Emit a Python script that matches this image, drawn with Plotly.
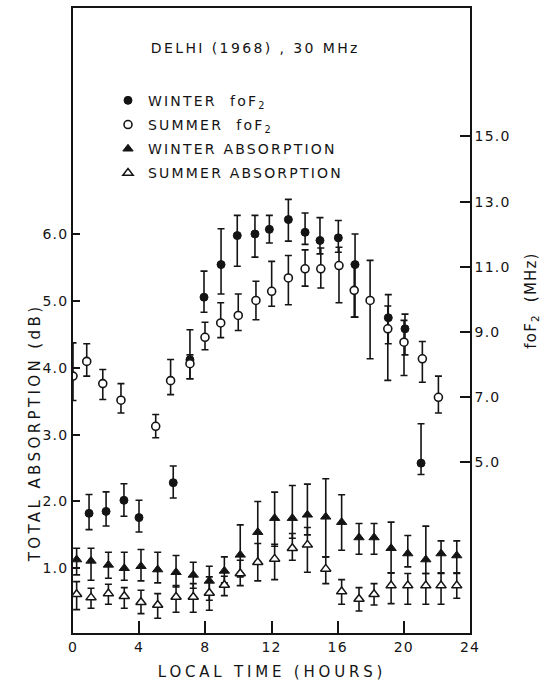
import plotly.graph_objects as go

# ---- Absorption (dB), left axis ----
abs_hours = [0.22, 1.09, 2.14, 3.10, 4.11, 5.12, 6.23, 7.27, 8.24, 9.15, 10.11, 11.17,
             12.19, 13.26, 14.17, 15.28, 16.24, 17.29, 18.20, 19.23, 20.24, 21.33, 22.25, 23.20]

winter_abs = [1.13, 1.11, 1.05, 1.00, 1.03, 0.98, 0.94, 0.90, 0.81, 0.96, 1.20, 1.54,
              1.75, 1.75, 1.80, 1.77, 1.69, 1.46, 1.46, 1.30, 1.22, 1.13, 1.22, 1.19]
winter_abs_hi = [1.30, 1.30, 1.24, 1.24, 1.28, 1.24, 1.19, 1.09, 1.03, 1.17, 1.65, 2.00,
                 2.14, 2.24, 2.26, 2.34, 2.10, 1.67, 1.67, 1.69, 1.49, 1.63, 1.41, 1.41]
winter_abs_lo = [0.90, 0.82, 0.85, 0.82, 0.81, 0.78, 0.72, 0.70, 0.52, 0.78, 0.87, 1.10,
                 1.33, 1.45, 1.50, 1.17, 1.27, 1.21, 1.21, 0.93, 1.02, 0.92, 0.93, 0.93]

summer_abs = [0.61, 0.56, 0.62, 0.58, 0.49, 0.45, 0.57, 0.57, 0.63, 0.75, 0.92, 1.09,
              1.14, 1.30, 1.35, 0.99, 0.65, 0.54, 0.61, 0.74, 0.74, 0.74, 0.74, 0.74]
summer_abs_hi = [0.80, 0.70, 0.76, 0.71, 0.67, 0.62, 0.74, 0.77, 0.87, 0.88, 1.12, 1.37,
                 1.36, 1.52, 1.61, 1.17, 0.83, 0.71, 0.77, 0.93, 0.92, 0.92, 0.92, 0.92]
summer_abs_lo = [0.38, 0.40, 0.46, 0.40, 0.32, 0.25, 0.34, 0.34, 0.37, 0.59, 0.74, 0.81,
                 0.83, 1.12, 0.94, 0.77, 0.46, 0.36, 0.45, 0.47, 0.46, 0.46, 0.46, 0.55]

# ---- foF2 (MHz), right axis ----
winter_f_hours = [0.97, 2.00, 3.08, 3.99, 6.06, 7.07, 7.92, 8.95, 9.93, 11.00, 11.87, 13.02,
                  14.03, 14.93, 16.04, 17.05, 19.06, 20.07, 21.04]
winter_fof2 = [3.44, 3.50, 3.84, 3.31, 4.38, 8.15, 10.07, 11.07, 11.96, 12.01, 12.15, 12.45,
               12.06, 11.81, 11.89, 11.07, 9.44, 9.10, 4.98]
winter_fof2_hi = [4.02, 4.10, 4.35, 3.84, 4.89, 9.07, 10.87, 12.17, 12.58, 12.58, 12.58, 13.07,
                  12.65, 12.51, 12.42, 12.01, 10.15, 9.55, 6.19]
winter_fof2_lo = [2.94, 3.05, 3.35, 2.87, 3.91, 7.57, 9.61, 10.17, 11.02, 11.30, 11.73, 11.79,
                  11.69, 11.40, 11.45, 9.46, 8.64, 8.30, 4.63]

summer_f_hours = [0.00, 0.83, 1.80, 2.90, 5.00, 5.90, 7.07, 7.98, 8.93, 9.99, 11.06, 12.01,
                  13.02, 14.03, 14.98, 16.08, 17.00, 17.96, 19.03, 20.01, 21.12, 22.09]
summer_fof2 = [7.65, 8.10, 7.42, 6.91, 6.11, 7.51, 8.03, 8.84, 9.28, 9.51, 9.97, 10.25,
               10.66, 10.94, 10.94, 11.04, 10.28, 9.97, 9.10, 8.69, 8.18, 7.00]
summer_fof2_hi = [8.67, 8.64, 7.85, 7.42, 6.47, 8.16, 8.30, 9.30, 9.90, 10.17, 10.56, 11.17,
                  11.35, 11.52, 11.58, 11.60, 11.09, 11.20, 9.80, 9.36, 8.71, 7.65]
summer_fof2_lo = [6.90, 7.65, 6.93, 6.52, 5.76, 7.08, 7.57, 8.46, 8.83, 9.05, 9.38, 9.79,
                  9.84, 10.41, 10.35, 9.90, 9.46, 8.18, 7.52, 7.67, 7.46, 6.52]

x_ticks = [0, 4, 8, 12, 16, 20, 24]
abs_ticks = [1.0, 2.0, 3.0, 4.0, 5.0, 6.0]
fof2_ticks = [5.0, 7.0, 9.0, 11.0, 13.0, 15.0]

INK = "#141414"
FONT = "DejaVu Sans"

# plot-area geometry in page pixels, used to place the free-standing labels
L, R, T, B = 73, 470, 6, 633


def px(x):
    return (x - L) / (R - L)


def py(y):
    return (B - y) / (B - T)


def err(vals, hi, lo):
    return dict(type="data", symmetric=False,
                array=[h - v for v, h in zip(vals, hi)],
                arrayminus=[v - l for v, l in zip(vals, lo)],
                color=INK, thickness=1.6, width=3.5)


fig = go.Figure()

fig.add_trace(go.Scatter(
    x=winter_f_hours, y=winter_fof2, yaxis="y2", mode="markers",
    name="WINTER  foF<sub>2</sub>", legendgroup="a",
    marker=dict(symbol="circle", size=8, color=INK, line=dict(color=INK, width=1)),
    error_y=err(winter_fof2, winter_fof2_hi, winter_fof2_lo)))

fig.add_trace(go.Scatter(
    x=summer_f_hours, y=summer_fof2, yaxis="y2", mode="markers",
    name="SUMMER  foF<sub>2</sub>", legendgroup="b",
    marker=dict(symbol="circle", size=8, color="white", line=dict(color=INK, width=1.6)),
    error_y=err(summer_fof2, summer_fof2_hi, summer_fof2_lo)))

fig.add_trace(go.Scatter(
    x=abs_hours, y=winter_abs, mode="markers",
    name="WINTER ABSORPTION", legendgroup="c",
    marker=dict(symbol="triangle-up", size=9, color=INK, line=dict(color=INK, width=1)),
    error_y=err(winter_abs, winter_abs_hi, winter_abs_lo)))

fig.add_trace(go.Scatter(
    x=abs_hours, y=summer_abs, mode="markers",
    name="SUMMER ABSORPTION", legendgroup="d",
    marker=dict(symbol="triangle-up", size=9, color="white", line=dict(color=INK, width=1.5)),
    error_y=err(summer_abs, summer_abs_hi, summer_abs_lo)))

axis_common = dict(showgrid=False, zeroline=False, showline=True, linecolor=INK, linewidth=1.6,
                   ticks="inside", tickcolor=INK, tickwidth=1.6,
                   tickfont=dict(family=FONT, size=14, color=INK))


def label(text, x, y, size, angle=0):
    return dict(text=text, xref="paper", yref="paper", x=px(x), y=py(y),
                xanchor="center", yanchor="middle", textangle=angle, showarrow=False,
                font=dict(family=FONT, size=size, color=INK))


fig.update_layout(
    width=544, height=685,
    margin=dict(l=L, r=544 - R, t=T, b=685 - B),
    paper_bgcolor="white", plot_bgcolor="white",
    font=dict(family=FONT, color=INK),
    showlegend=True,
    legend=dict(x=px(108), y=py(83), xanchor="left", yanchor="top",
                bgcolor="rgba(0,0,0,0)", borderwidth=0, tracegroupgap=3,
                entrywidth=240, entrywidthmode="pixels",
                font=dict(family=FONT, size=14, color=INK)),
    xaxis=dict(range=[0, 24], tickvals=x_ticks, ticklen=12, mirror=True, **axis_common),
    yaxis=dict(range=[0.03, 9.39], tickvals=abs_ticks, tickformat=".1f", ticklen=7, **axis_common),
    yaxis2=dict(range=[-0.23, 18.94], tickvals=fof2_ticks, tickformat=".1f", ticklen=10,
                overlaying="y", side="right", **axis_common),
    annotations=[
        label("DELHI (1968) , 30 MHz", 255, 46, 14),
        label("TOTAL ABSORPTION (dB)", 35, 433, 15, -90),
        label("foF<sub>2</sub>  (MHz)", 531, 300, 15, -90),
        label("LOCAL TIME (HOURS)", 272, 672, 15),
    ],
)

# widen the lettering in the style of the stencilled originals
spacing_js = """
var gd = document.getElementById('{plot_id}');
function spread(sel, amount) {
  gd.querySelectorAll(sel).forEach(function (t) { t.style.letterSpacing = amount; });
}
var ann = gd.querySelectorAll('.annotation-text');
var amounts = ['2.4px', '3.4px', '1.2px', '3.8px'];
ann.forEach(function (t, i) { t.style.letterSpacing = amounts[i] || '2px'; });
spread('.legendtext', '2.2px');
spread('.xtick text, .ytick text, .y2tick text', '1.2px');
gd.querySelectorAll('.legend .scrollbox').forEach(function (s) { s.removeAttribute('clip-path'); });
"""

fig.write_html("out.html", post_script=spacing_js)
